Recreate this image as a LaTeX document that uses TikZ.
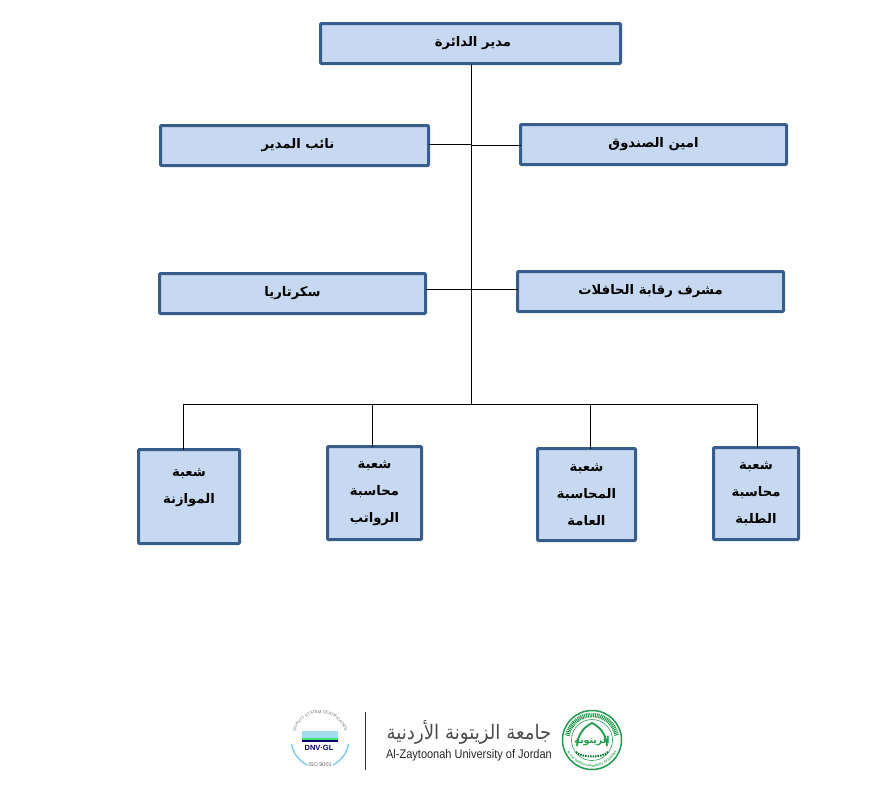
\documentclass[tikz,border=0pt]{standalone}
\usepackage{fontspec}
\usetikzlibrary{decorations.text}
\setmainfont{Liberation Sans}
\newfontfamily\arabicfont[Script=Arabic]{DejaVu Sans}
\TeXXeTstate=1
\newcommand{\ar}[1]{\beginR #1\endR}
\definecolor{boxfill}{HTML}{C6D9F1}
\definecolor{boxline}{HTML}{385D8A}
\definecolor{zaygreen}{HTML}{1E9B4B}
\definecolor{dnvblue}{HTML}{7CCBE8}
\tikzset{
  unitbox/.style={draw=boxline, fill=boxfill, line width=3pt, rounded corners=1pt,
    outer sep=0pt, inner sep=0pt, align=center, text=black,
    font=\arabicfont\bfseries\fontsize{13.2}{27}\selectfont},
  link/.style={line width=1pt, black}
}
\begin{document}
\begin{tikzpicture}[x=1pt, y=-1pt]
    \useasboundingbox (0,0) rectangle (882,790);
    %---- top and side boxes
    \node[unitbox, minimum width=300pt, minimum height=40pt] (head) at (470.5,43.5) {\hspace*{5pt}\ar{مدير الدائرة}};
    \node[unitbox, minimum width=268pt, minimum height=40pt] (deputy) at (294.5,145.5) {\hspace*{7pt}\ar{نائب المدير}};
    \node[unitbox, minimum width=266pt, minimum height=40pt] (cashier) at (653.5,144.5) {\ar{امين الصندوق}};
    \node[unitbox, minimum width=266pt, minimum height=40pt] (secretary) at (292.5,293.5) {\ar{سكرتاريا}};
    \node[unitbox, minimum width=266pt, minimum height=40pt] (fleet) at (650.5,291.5) {\ar{مشرف رقابة الحافلات}};
    %---- bottom row
    \node[unitbox, minimum width=101pt, minimum height=94pt] (budget) at (189,496.5) {\ar{شعبة}\\\ar{الموازنة}\\[-6pt]\mbox{}};
    \node[unitbox, minimum width=94pt, minimum height=93pt] (payroll) at (374.5,493) {\ar{شعبة}\\\ar{محاسبة}\\\ar{الرواتب}};
    \node[unitbox, minimum width=98pt, minimum height=92pt] (general) at (586.5,494.5) {\ar{شعبة}\\\ar{المحاسبة}\\\ar{العامة}};
    \node[unitbox, minimum width=85pt, minimum height=92pt] (students) at (756,493.5) {\ar{شعبة}\\\ar{محاسبة}\\\ar{الطلبة}};
    %---- connectors
    \coordinate (busmid) at (471,404);
    \coordinate (busa) at (183,404);
    \coordinate (busb) at (372,404);
    \coordinate (busc) at (590,404);
    \coordinate (busd) at (757,404);
    \coordinate (tapa) at (471,144);
    \coordinate (tapb) at (471,145);
    \coordinate (tapc) at (471,289);
    \draw[link] (head.south -| busmid) -- (busmid);
    \draw[link] (busa) -- (busd);
    \draw[link] (tapa -| deputy.east) -- (tapa);
    \draw[link] (tapb -| cashier.west) -- (tapb);
    \draw[link] (tapc -| secretary.east) -- (tapc);
    \draw[link] (tapc -| fleet.west) -- (tapc);
    \draw[link] (busa) -- (busa |- budget.north);
    \draw[link] (busb) -- (busb |- payroll.north);
    \draw[link] (busc) -- (busc |- general.north);
    \draw[link] (busd) -- (busd |- students.north);
    %---- certification mark
    \coordinate (dnv) at (320,739);
    \draw[dnvblue, line width=1.4pt] (dnv) ++(170:29) arc[start angle=170, end angle=116, radius=29];
    \draw[dnvblue, line width=1.4pt] (dnv) ++(64:29) arc[start angle=64, end angle=10, radius=29];
    \path[decorate, decoration={text along path, text align=center,
      text={|\fontsize{4}{5}\selectfont\color{black!60}|QUALITY SYSTEM CERTIFICATION}}]
      (dnv) ++(180:26) arc[start angle=180, end angle=360, radius=26];
    \fill[dnvblue!70] (302,731) rectangle (338,738);
    \fill[green!50!dnvblue] (302,738) rectangle (338,740);
    \fill[blue!40!black] (302,740) rectangle (338,742);
    \node[font=\bfseries\fontsize{7.5}{8}\selectfont, text=blue!40!black, inner sep=0pt] (dnvtext) at (319,748) {DNV·GL};
    \node[font=\fontsize{5.5}{6}\selectfont, text=black!60, inner sep=0pt] (isotext) at (320,765) {ISO 9001};
    %---- university name
    \draw[line width=1pt, black!80] (365,712) -- (365,770);
    \node[font=\arabicfont\fontsize{20}{22}\selectfont, text=black!70, inner sep=0pt, xscale=0.91] (uniar) at (469,732) {\ar{جامعة الزيتونة الأردنية}};
    \node[font=\fontsize{12.5}{13}\selectfont, text=black!85, inner sep=0pt, xscale=0.88] (unien) at (469,755) {Al-Zaytoonah University of Jordan};
    %---- university seal
    \coordinate (seal) at (592,740);
    \draw[zaygreen, line width=1.5pt] (seal) circle (29.5);
    \draw[zaygreen, line width=0.6pt] (seal) circle (20.5);
    \draw[zaygreen, line width=4.5pt, dash pattern=on 1pt off 0.8pt] (seal) ++(190:25) arc[start angle=190, end angle=350, radius=25];
    \path[decorate, decoration={text along path, text align=center,
      text={|\bfseries\fontsize{3}{4}\selectfont\color{zaygreen}|AL-ZAYTOONAH UNIVERSITY OF JORDAN}}]
      (seal) ++(172:27) arc[start angle=172, end angle=8, radius=27];
    \draw[zaygreen, line width=1.8pt] (577,746) .. controls (578,732) and (586,726) .. (592,723) .. controls (598,726) and (606,732) .. (607,746);
    \node[font=\arabicfont\bfseries\fontsize{9.5}{10}\selectfont, text=zaygreen, inner sep=0pt] (sealtext) at (592,741) {\ar{الزيتونة}};
    \draw[zaygreen!70!black, line width=2pt, dash pattern=on 1.5pt off 1pt] (576,752) .. controls (582,758) and (602,758) .. (608,752);
\end{tikzpicture}
\end{document}
